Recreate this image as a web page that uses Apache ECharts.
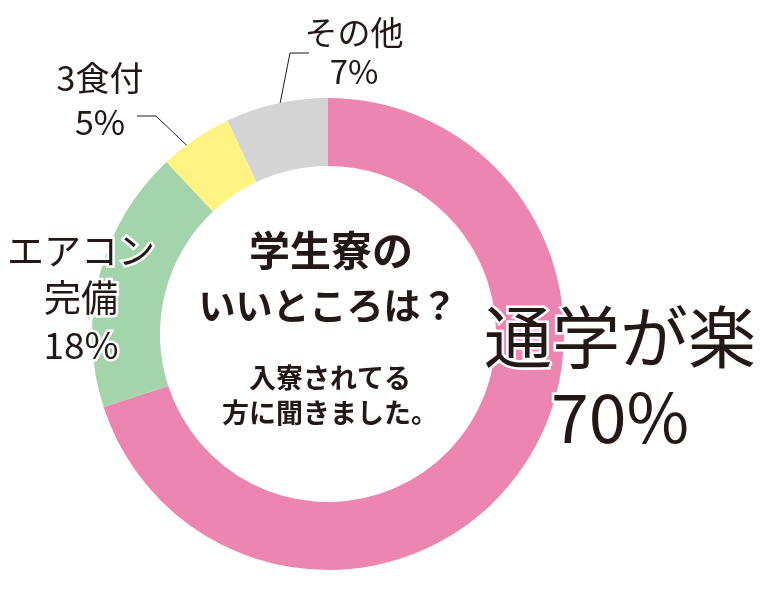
<!DOCTYPE html>
<html style="height: 100%">
<head>
<meta charset="utf-8">
<style>
    html, body { height: 100%; margin: 0; overflow: hidden; background: #fff; }
    #container { width: 767px; height: 596px; }
</style>
</head>
<body>
<div id="container"></div>
<script src="https://cdn.jsdelivr.net/npm/echarts@6/dist/echarts.min.js"></script>
<script type="text/javascript">
// 学生寮のいいところ（アンケート）
var names = ['通学が楽', 'エアコン\n完備', '3食付', 'その他'];
var values = [70, 18, 5, 7];
var colors = ['#EC85B0', '#A4D4AB', '#FFF481', '#D4D4D4'];

var ink = '#231815';
var font = '"Noto Sans CJK JP", "Noto Sans", sans-serif';

// ラベル位置（中心）と引き出し線
var spots = [
    { x: 620, y: 377, line: null },
    { x: 81, y: 298, line: null },
    { x: 100, y: 100, line: [[137, 116], [156, 116], [200, 158]] },
    { x: 354, y: 52, line: [[309, 53], [290, 53], [276, 124]] }
];
var labelStyles = [
    { fontSize: 68, lineHeight: 80 },
    { fontSize: 37, lineHeight: 47 },
    { fontSize: 34, lineHeight: 44 },
    { fontSize: 33, lineHeight: 39 }
];

var dom = document.getElementById('container');
var myChart = echarts.init(dom, null, { renderer: 'canvas' });

var pieData = names.map(function (n, i) {
    return {
        name: n,
        value: values[i],
        itemStyle: { color: colors[i] },
        label: {
            fontSize: labelStyles[i].fontSize,
            lineHeight: labelStyles[i].lineHeight
        },
        labelLine: { show: !!spots[i].line }
    };
});

var option = {
    animation: false,
    series: [{
        type: 'pie',
        center: [328, 334],
        radius: [168, 236],
        startAngle: 90,
        clockwise: true,
        avoidLabelOverlap: false,
        silent: true,
        data: pieData,
        label: {
            show: true,
            position: 'outside',
            color: ink,
            fontFamily: font,
            fontWeight: 'normal',
            textBorderColor: '#fff',
            textBorderWidth: 5,
            align: 'center',
            formatter: function (p) {
                return p.name + '\n' + p.value + '%';
            }
        },
        labelLine: {
            lineStyle: { color: ink, width: 1 }
        },
        labelLayout: function (params) {
            var s = spots[params.dataIndex];
            var out = {
                x: s.x,
                y: s.y,
                align: 'center',
                verticalAlign: 'middle'
            };
            if (s.line) {
                out.labelLinePoints = s.line;
            }
            return out;
        }
    }],
    graphic: [{
        type: 'text',
        z: 10,
        style: {
            text: '学生寮の',
            x: 331,
            y: 250,
            align: 'center',
            verticalAlign: 'middle',
            font: 'bold 41px ' + font,
            fill: ink
        }
    }, {
        type: 'text',
        z: 10,
        style: {
            text: 'いいところは？',
            x: 328,
            y: 306,
            align: 'center',
            verticalAlign: 'middle',
            font: 'bold 37px ' + font,
            fill: ink
        }
    }, {
        type: 'text',
        z: 10,
        style: {
            text: '入寮されてる\n方に聞きました。',
            x: 330,
            y: 395,
            align: 'center',
            verticalAlign: 'middle',
            font: 'bold 27px ' + font,
            lineHeight: 35,
            fill: ink
        }
    }]
};

myChart.setOption(option, true);
</script>
</body>
</html>
